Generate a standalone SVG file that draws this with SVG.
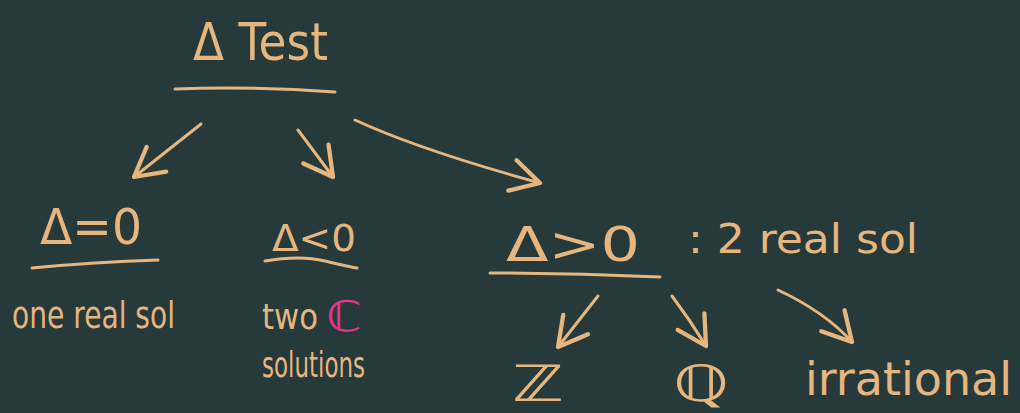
<svg xmlns="http://www.w3.org/2000/svg" width="1020" height="413" viewBox="0 0 1020 413">
  <defs>
    <marker id="head" markerUnits="userSpaceOnUse" markerWidth="40" markerHeight="40" viewBox="-22 -14 26 28" refX="0" refY="0" orient="auto">
      <path d="M-20,-11 L0,0 L-20,11" fill="none" stroke="#e6b67e" stroke-width="3" stroke-linecap="round" stroke-linejoin="round"/>
    </marker>
    <style>
      .t { fill: #e6b67e; font-family: "DejaVu Sans", "Noto Sans", sans-serif; }
      .ln { fill: none; stroke: #e6b67e; stroke-width: 3; stroke-linecap: round; stroke-linejoin: round; }
      .c { fill: none; stroke: #e6b67e; stroke-width: 3; stroke-linecap: round; marker-end: url(#head); }
    </style>
  </defs>
  <rect width="1020" height="413" fill="#263a3c"/>

  <g id="root">
    <text class="t" x="193" y="60" font-size="52" textLength="135" lengthAdjust="spacingAndGlyphs">Δ Test</text>
    <path class="ln" d="M175,89 Q250,86 335,92"/>
  </g>

  <g id="eq0">
    <text class="t" x="40" y="244" font-size="50" textLength="102" lengthAdjust="spacingAndGlyphs">Δ=0</text>
    <path class="ln" d="M32,268 Q95,262 158,260"/>
    <text class="t" x="12" y="328" font-size="38" textLength="163" lengthAdjust="spacingAndGlyphs">one real sol</text>
  </g>

  <g id="lt0">
    <text class="t" x="272" y="251" font-size="38" textLength="84" lengthAdjust="spacingAndGlyphs">Δ&lt;0</text>
    <path class="ln" d="M265,261 Q300,255 325,261 T357,268"/>
    <text class="t" x="262" y="329" font-size="36" textLength="56" lengthAdjust="spacingAndGlyphs">two</text>
    <text x="326" y="331" font-size="42" fill="#e8358f" font-family="DejaVu Sans, sans-serif" textLength="36" lengthAdjust="spacingAndGlyphs">ℂ</text>
    <text class="t" x="262" y="377" font-size="36" textLength="103" lengthAdjust="spacingAndGlyphs">solutions</text>
  </g>

  <g id="gt0">
    <text class="t" x="506" y="261" font-size="48" textLength="134" lengthAdjust="spacingAndGlyphs">Δ&gt;0</text>
    <path class="ln" d="M490,273 Q575,273 660,277"/>
    <text class="t" x="688" y="253" font-size="40" textLength="230" lengthAdjust="spacingAndGlyphs">: 2 real sol</text>
  </g>

  <g id="integers">
    <text class="t" x="512" y="401" font-size="50" textLength="52" lengthAdjust="spacingAndGlyphs">ℤ</text>
  </g>
  <g id="rationals">
    <text class="t" x="673" y="401" font-size="50" textLength="56" lengthAdjust="spacingAndGlyphs">ℚ</text>
  </g>
  <g id="irrational">
    <text class="t" x="805" y="395" font-size="46" textLength="207" lengthAdjust="spacingAndGlyphs">irrational</text>
  </g>

  <g id="connectors">
    <path class="c" d="M201,124 L134,177"/>
    <path class="c" d="M298,130 L333,177"/>
    <path class="c" d="M355,120 Q420,150 540,183"/>
    <path class="c" d="M598,296 L558,347"/>
    <path class="c" d="M672,296 Q690,320 706,346"/>
    <path class="c" d="M778,290 Q825,312 852,342"/>
  </g>
</svg>
